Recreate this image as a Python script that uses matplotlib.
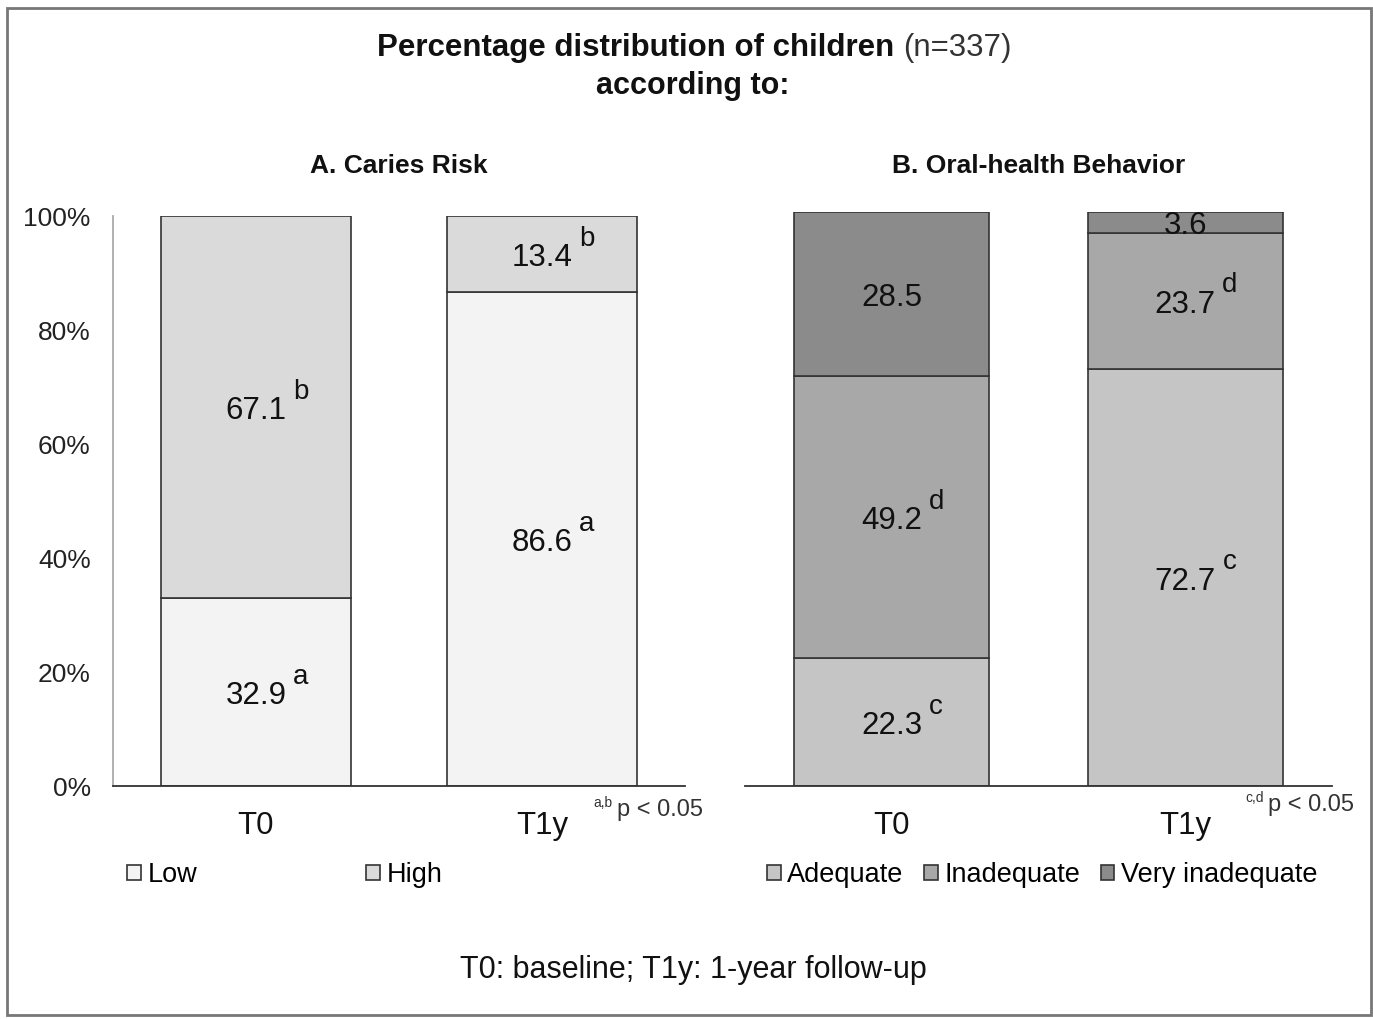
import matplotlib
matplotlib.use("Agg")
import matplotlib.pyplot as plt
from matplotlib.patches import Rectangle

plt.rcParams['font.family'] = ['Liberation Sans', 'DejaVu Sans']

# ---- data ----
categories = ["T0", "T1y"]
caries_series = ["Low", "High"]
caries_low = [32.9, 86.6]
caries_high = [67.1, 13.4]
caries_letters_low = ["a", "a"]
caries_letters_high = ["b", "b"]

behav_series = ["Adequate", "Inadequate", "Very inadequate"]
behav_adequate = [22.3, 72.7]
behav_inadequate = [49.2, 23.7]
behav_very = [28.5, 3.6]
behav_letters_adequate = ["c", "c"]
behav_letters_inadequate = ["d", "d"]
behav_letters_very = ["", ""]

yticks = [0, 20, 40, 60, 80, 100]
ytick_labels = ["0%", "20%", "40%", "60%", "80%", "100%"]

# ---- style ----
W, H = 1373, 1019
fig = plt.figure(figsize=(W / 100, H / 100), dpi=100)
edge = "#333333"
col_low, col_high = "#f3f3f3", "#dadada"
col_adeq, col_inad, col_very = "#c5c5c5", "#a8a8a8", "#8b8b8b"
lab_fs = 22.5
let_fs = 20

def px(x, y):
    return x / W, 1 - y / H

# outer frame
fig.patches.append(Rectangle((7 / W, 1 - 1015 / H), (1371 - 7) / W, (1015 - 8) / H,
                             transform=fig.transFigure, fill=False,
                             edgecolor="#777777", linewidth=2))

# titles
fig.text(*px(894, 48), "Percentage distribution of children", ha="right", va="center",
         fontsize=22.5, fontweight="bold", color="#111111")
fig.text(*px(903, 48), "(n=337)", ha="left", va="center", fontsize=22.5, color="#333333")
fig.text(*px(693, 86), "according to:", ha="center", va="center",
         fontsize=22, fontweight="bold", color="#111111")
fig.text(*px(693, 970), "T0: baseline; T1y: 1-year follow-up", ha="center", va="center",
         fontsize=22, color="#111111")


def stacked(ax, series_vals, series_letters, colors, names):
    x = list(range(len(categories)))
    bottom = [0.0] * len(categories)
    handles = []
    for vals, letters, c, name in zip(series_vals, series_letters, colors, names):
        bars = ax.bar(x, vals, bottom=bottom, width=0.665, color=c, edgecolor=edge,
                      linewidth=1.2, label=name, zorder=2)
        handles.append(bars)
        for xi, v, b, let in zip(x, vals, bottom, letters):
            yc = b + v / 2
            ax.annotate(f"{v:.1f}", (xi, yc), xytext=(0, -3), textcoords="offset points",
                        ha="center", va="center", fontsize=lab_fs,
                        color="#111111", zorder=3)
            if let:
                ax.annotate(let, (xi, yc), xytext=(32, 11), textcoords="offset points",
                            ha="center", va="center", fontsize=let_fs, color="#111111")
        bottom = [bb + v for bb, v in zip(bottom, vals)]
    ax.set_xlim(-0.5, 1.5)
    ax.set_ylim(0, 100)
    ax.set_xticks(x)
    ax.set_xticklabels(categories, fontsize=22.5)
    ax.tick_params(axis="x", length=0, pad=18, colors="#111111")
    for s in ("top", "right"):
        ax.spines[s].set_visible(False)
    ax.spines["bottom"].set_color("#333333")
    ax.spines["bottom"].set_linewidth(1.3)
    return handles


# left panel
axA = fig.add_axes([113 / W, 1 - 786 / H, 572 / W, 570 / H])
hA = stacked(axA, [caries_low, caries_high], [caries_letters_low, caries_letters_high],
             [col_low, col_high], caries_series)
axA.set_yticks(yticks)
axA.set_yticklabels(ytick_labels, fontsize=19, color="#222222")
axA.tick_params(axis="y", length=0, pad=16)
axA.spines["left"].set_color("#aaaaaa")
axA.spines["left"].set_linewidth(1.3)
axA.text(0.5, 1.0 + 50 / 570, "A. Caries Risk", transform=axA.transAxes, ha="center",
         va="center", fontsize=19, fontweight="bold", color="#111111")
axA.text(0.873, -0.030, "a,b", transform=axA.transAxes, ha="right", va="center",
         fontsize=10, color="#333333")
axA.text(0.881, -0.042, "p < 0.05", transform=axA.transAxes, ha="left", va="center",
         fontsize=17, color="#333333")
legA = axA.legend(handles=hA, loc="center left", bbox_to_anchor=px(127, 875),
                  bbox_transform=fig.transFigure, ncol=2, frameon=False, fontsize=19.5,
                  handlelength=0.5, handleheight=0.5, handletextpad=0.25,
                  columnspacing=6.25, borderpad=0, borderaxespad=0)

# right panel
axB = fig.add_axes([745 / W, 1 - 786 / H, 587 / W, 574 / H])
hB = stacked(axB, [behav_adequate, behav_inadequate, behav_very],
             [behav_letters_adequate, behav_letters_inadequate, behav_letters_very],
             [col_adeq, col_inad, col_very], behav_series)
axB.set_yticks([])
axB.spines["left"].set_visible(False)
axB.text(0.5, 1.0 + 46 / 574, "B. Oral-health Behavior", transform=axB.transAxes,
         ha="center", va="center", fontsize=19, fontweight="bold", color="#111111")
axB.text(0.884, -0.021, "c,d", transform=axB.transAxes, ha="right", va="center",
         fontsize=10, color="#333333")
axB.text(0.891, -0.033, "p < 0.05", transform=axB.transAxes, ha="left", va="center",
         fontsize=17, color="#333333")
legB = axB.legend(handles=hB, loc="center left", bbox_to_anchor=px(767, 875),
                  bbox_transform=fig.transFigure, ncol=3, frameon=False, fontsize=19.5,
                  handlelength=0.5, handleheight=0.5, handletextpad=0.25,
                  columnspacing=0.75, borderpad=0, borderaxespad=0)

fig.savefig("out.png", dpi=100, facecolor="white")
